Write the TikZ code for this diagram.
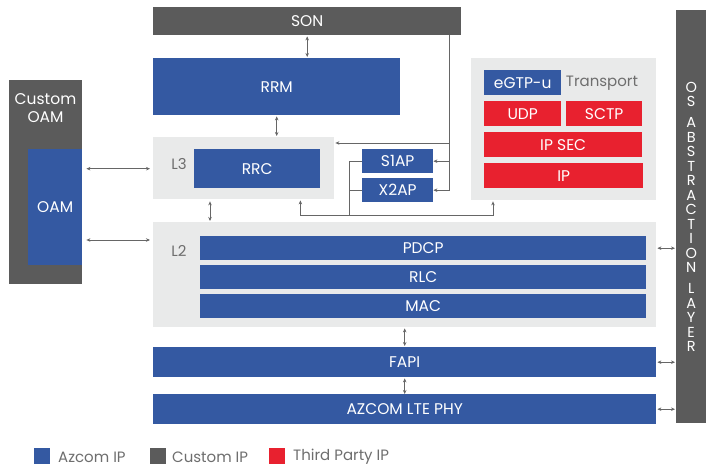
\documentclass[tikz,border=0pt]{standalone}
\usepackage{fontspec}
\setmainfont{Poppins}
\usetikzlibrary{arrows.meta,calc}
\definecolor{azblue}{HTML}{3459A2}
\definecolor{cgray}{HTML}{5B5B5B}
\definecolor{lgray}{HTML}{E9EAEA}
\definecolor{tred}{HTML}{E8212F}
\definecolor{agray}{HTML}{666666}
\definecolor{tgray}{HTML}{6E6E6E}
\begin{document}
\begin{tikzpicture}[x=1pt,y=-1pt,
  fs/.style={font=\fontsize{15.5}{18}\selectfont},
  blk/.style={fs,draw=none,inner sep=0pt,anchor=north west,text=white},
  blue/.style={blk,fill=azblue},
  dark/.style={blk,fill=cgray},
  light/.style={blk,fill=lgray},
  red/.style={blk,fill=tred},
  lbl/.style={font=\fontsize{15}{18}\selectfont,text=tgray,inner sep=0pt},
  dbl/.style={draw=agray,line width=0.7pt,{Stealth[length=4pt,width=3.5pt]}-{Stealth[length=4pt,width=3.5pt]}},
  sgl/.style={draw=agray,line width=0.7pt,-{Stealth[length=4pt,width=3.5pt]}},
  ln/.style={draw=agray,line width=0.7pt}]
\fill[white] (0,0) rectangle (715,470);
\useasboundingbox (0,0) rectangle (715,470);
% boxes
\node[dark,minimum width=308pt,minimum height=28pt] (son) at (153,7) {SON};
\node[blue,minimum width=247pt,minimum height=57pt] (rrm) at (153,58) {RRM};
\node[light,minimum width=181pt,minimum height=62pt] (l3) at (153,137) {};
\node[lbl] (l3t) at (179,164) {L3};
\node[blue,minimum width=126pt,minimum height=39pt] (rrc) at (194,149) {RRC};
\node[dark,minimum width=73pt,minimum height=204pt] (oamo) at (9,80) {};
\node[fs,text=white,align=center,inner sep=0pt] (oamt) at (45.5,108) {Custom\\OAM};
\node[blue,minimum width=54pt,minimum height=116pt] (oam) at (28,149) {OAM};
\node[light,minimum width=503pt,minimum height=105pt] (l2) at (153,222) {};
\node[lbl] (l2t) at (179,251) {L2};
\node[blue,minimum width=446pt,minimum height=24pt] (pdcp) at (200,236) {PDCP};
\node[blue,minimum width=446pt,minimum height=24pt] (rlc) at (200,265) {RLC};
\node[blue,minimum width=446pt,minimum height=24pt] (mac) at (200,294) {MAC};
\node[blue,minimum width=503pt,minimum height=30pt] (fapi) at (153,347) {FAPI};
\node[blue,minimum width=503pt,minimum height=30pt] (phy) at (153,394) {AZCOM LTE PHY};
\node[dark,minimum width=30pt,minimum height=413pt] (os) at (676,10) {};
\node[text=white,align=center,inner sep=0pt,font=\fontsize{14.5}{14.5}\selectfont] (ost) at (os.center)
  {O\\S\\[6.5pt]A\\B\\S\\T\\R\\A\\C\\T\\I\\O\\N\\[6.5pt]L\\A\\Y\\E\\R};
\node[light,minimum width=185pt,minimum height=142pt] (tr) at (471,58) {};
\node[blue,minimum width=77pt,minimum height=25pt] (egtp) at (484,70) {eGTP-u};
\node[lbl] (trt) at (602,83) {Transport};
\node[red,minimum width=77pt,minimum height=25pt] (udp) at (484,101) {UDP};
\node[red,minimum width=76pt,minimum height=25pt] (sctp) at (566,101) {SCTP};
\node[red,minimum width=158pt,minimum height=25pt] (ipsec) at (484,132) {IP SEC};
\node[red,minimum width=159pt,minimum height=25pt] (ip) at (484,163) {IP};
\node[blue,minimum width=71pt,minimum height=24pt] (s1ap) at (362,149) {S1AP};
\node[blue,minimum width=71pt,minimum height=24pt] (x2ap) at (362,178) {X2AP};
% legend
\node[blue,minimum width=16pt,minimum height=16pt] (lg1) at (34,448) {};
\node[lbl,anchor=west] (lg1t) at (58,457) {Azcom IP};
\node[dark,minimum width=16pt,minimum height=16pt] (lg2) at (150,448) {};
\node[lbl,anchor=west] (lg2t) at (172,457) {Custom IP};
\node[red,minimum width=16pt,minimum height=16pt] (lg3) at (269,448) {};
\node[lbl,anchor=west] (lg3t) at (293,457) {Third Party IP};
% vertical arrows
\draw[dbl,shorten <=1pt,shorten >=1pt] (son.south) -- (son.south |- rrm.north);
\draw[dbl,shorten <=1pt,shorten >=1pt] (rrm.south) -- (rrm.south |- l3.north);
\draw[dbl,shorten <=2pt,shorten >=1pt] ($(l3.south west)+(57,0)$) -- ($(l2.north west)+(57,0)$);
\draw[dbl,shorten <=1pt,shorten >=1pt] (l2.south) -- (fapi.north);
\draw[dbl,shorten <=1pt,shorten >=0pt] (fapi.south) -- (phy.north);
% OAM arrows
\draw[dbl,shorten <=4pt,shorten >=3pt] (oam.east |- rrc.west) -- (l3.west |- rrc.west);
\draw[dbl,shorten <=4pt,shorten >=3pt] (oam.east |- 0,240) -- (l2.west |- 0,240);
% OS arrows
\draw[dbl,shorten <=1pt,shorten >=1pt] (l2.east |- pdcp.east) -- (os.west |- pdcp.east);
\draw[dbl,shorten <=1pt,shorten >=1pt] (fapi.east) -- (os.west |- fapi.east);
\draw[dbl,shorten <=1pt,shorten >=1pt] (phy.east) -- (os.west |- phy.east);
% SON feed
\coordinate (sj) at ($(son.south east)+(-12,0)$);
\coordinate (l3in) at ($(l3.north east)+(0,6)$);
\draw[sgl] (sj) |- (x2ap.east);
\draw[sgl] (sj |- s1ap.east) -- (s1ap.east);
\draw[sgl,shorten >=1pt] (sj |- l3in) -- (l3in);
% S1AP / X2AP bottom bus
\coordinate (jx) at ($(s1ap.west)+(-13,0)$);
\coordinate (jb) at ($(jx |- l2.north)+(0,-7)$);
\coordinate (l3b) at ($(l3.south east)+(-34,0)$);
\coordinate (trb) at ($(tr.south west)+(22,0)$);
\draw[ln] (s1ap.west) -- (jx) -- (jb);
\draw[ln] (x2ap.west) -- (jx |- x2ap.west);
\draw[sgl,shorten >=1pt] (jb) -| (l3b);
\draw[sgl,shorten >=1pt] (jb) -| (trb);
\end{tikzpicture}
\end{document}
